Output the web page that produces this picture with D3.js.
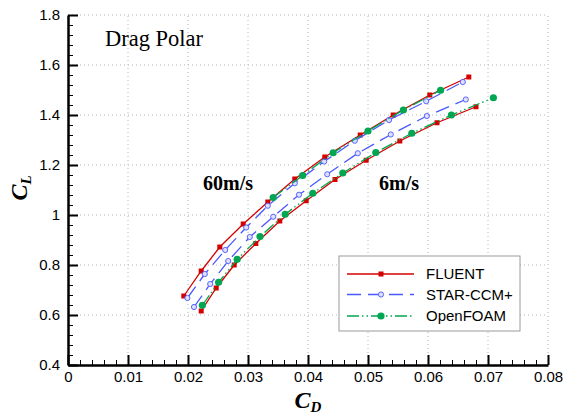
<!DOCTYPE html>
<html>
<head>
<meta charset="utf-8">
<script src="https://cdn.jsdelivr.net/npm/d3@7"></script>
<style>
  body { margin: 0; background: #fff; }
  svg { display: block; }
</style>
</head>
<body>
<svg id="chart" width="565" height="416"></svg>
<script>
// axis ticks
var xTicks = [0, 0.01, 0.02, 0.03, 0.04, 0.05, 0.06, 0.07, 0.08];
var yTicks = [0.4, 0.6, 0.8, 1.0, 1.2, 1.4, 1.6, 1.8];

// FLUENT
var fluent60CD = [0.0193, 0.0222, 0.0253, 0.0292, 0.0333, 0.0378, 0.0428, 0.0487, 0.0542, 0.0603, 0.0668];
var fluent60CL = [0.676, 0.776, 0.872, 0.964, 1.052, 1.144, 1.232, 1.320, 1.400, 1.480, 1.552];
var fluent6CD = [0.0222, 0.0247, 0.0277, 0.0313, 0.0353, 0.0397, 0.0445, 0.0497, 0.0553, 0.0615, 0.0680];
var fluent6CL = [0.616, 0.708, 0.800, 0.886, 0.976, 1.057, 1.142, 1.219, 1.296, 1.369, 1.433];

// STAR-CCM+
var star60CD = [0.0199, 0.0228, 0.0262, 0.0297, 0.0333, 0.0378, 0.0427, 0.0478, 0.0535, 0.0597, 0.0658];
var star60CL = [0.668, 0.764, 0.860, 0.950, 1.037, 1.127, 1.214, 1.297, 1.380, 1.455, 1.532];
var star6CD = [0.0210, 0.0237, 0.0267, 0.0303, 0.0342, 0.0385, 0.0432, 0.0483, 0.0538, 0.0598, 0.0663];
var star6CL = [0.632, 0.724, 0.816, 0.912, 0.993, 1.081, 1.163, 1.247, 1.322, 1.396, 1.462];

// OpenFOAM
var foam60CD = [0.0342, 0.0391, 0.0442, 0.0500, 0.0559, 0.0621];
var foam60CL = [1.070, 1.158, 1.249, 1.336, 1.420, 1.499];
var foam6CD = [0.0224, 0.0251, 0.0282, 0.0320, 0.0362, 0.0408, 0.0458, 0.0513, 0.0573, 0.0639, 0.0709];
var foam6CL = [0.639, 0.731, 0.823, 0.914, 1.003, 1.087, 1.168, 1.250, 1.327, 1.400, 1.469];

var series = [
    {name: 'FLUENT', color: '#d40000', dash: null, marker: 'square', curves: [[fluent60CD, fluent60CL], [fluent6CD, fluent6CL]]},
    {name: 'STAR-CCM+', color: '#4a58ff', dash: '14,7', marker: 'open', curves: [[star60CD, star60CL], [star6CD, star6CL]]},
    {name: 'OpenFOAM', color: '#00a651', dash: '12,3,1.5,3,1.5,3', marker: 'dot', curves: [[foam60CD, foam60CL], [foam6CD, foam6CL]]}
];

var svg = d3.select('#chart');

var x = d3.scaleLinear().domain([0, 0.08]).range([68, 548]),
    y = d3.scaleLinear().domain([0.4, 1.8]).range([365, 15]);

// dotted grid
var grid = svg.append('g').attr('stroke', '#b4b4b4').attr('stroke-dasharray', '1,3');
grid.selectAll('.gx').data(xTicks.slice(1)).enter().append('line')
    .attr('x1', function(d) { return x(d); }).attr('x2', function(d) { return x(d); })
    .attr('y1', y(0.4)).attr('y2', y(1.8));
grid.selectAll('.gy').data(yTicks.slice(1)).enter().append('line')
    .attr('y1', function(d) { return y(d); }).attr('y2', function(d) { return y(d); })
    .attr('x1', x(0)).attr('x2', x(0.08));

// minor ticks
var xMinor = d3.range(0, 0.0801, 0.002), yMinor = d3.range(0.4, 1.801, 0.04);
svg.append('g').attr('transform', 'translate(0,' + y(0.4) + ')')
    .call(d3.axisBottom(x).tickValues(xMinor).tickSize(-5).tickFormat(''))
    .call(function(g) { g.select('.domain').remove(); g.selectAll('line').attr('stroke-width', 1); });
svg.append('g').attr('transform', 'translate(' + x(0) + ',0)')
    .call(d3.axisLeft(y).tickValues(yMinor).tickSize(-5).tickFormat(''))
    .call(function(g) { g.select('.domain').remove(); g.selectAll('line').attr('stroke-width', 1); });

// major axes
var xAxis = svg.append('g').attr('transform', 'translate(0,' + y(0.4) + ')')
    .call(d3.axisBottom(x).tickValues(xTicks).tickSizeInner(-10).tickSizeOuter(0).tickPadding(6)
        .tickFormat(function(d) { return d === 0 ? '0' : d3.format('.2f')(d); }));
var yAxis = svg.append('g').attr('transform', 'translate(' + x(0) + ',0)')
    .call(d3.axisLeft(y).tickValues(yTicks).tickSizeInner(-10).tickSizeOuter(0).tickPadding(8)
        .tickFormat(function(d) { return d3.format('~g')(+d.toFixed(1)); }));
[xAxis, yAxis].forEach(function(a) {
    a.select('.domain').attr('stroke-width', 2.5);
    a.selectAll('.tick line').attr('stroke-width', 2);
    a.selectAll('text').attr('font-family', 'Liberation Sans, Arial, sans-serif').attr('font-size', 15).attr('fill', '#000');
});

// curves
var line = d3.line().x(function(d) { return x(d[0]); }).y(function(d) { return y(d[1]); });

function drawMarker(g, s, px, py) {
    if (s.marker === 'square') {
        g.append('rect').attr('x', px - 2.5).attr('y', py - 2.5).attr('width', 5).attr('height', 5).attr('fill', s.color);
    } else if (s.marker === 'open') {
        g.append('circle').attr('cx', px).attr('cy', py).attr('r', 2.6).attr('fill', '#dde0ff').attr('stroke', s.color).attr('stroke-width', 0.9);
    } else {
        g.append('circle').attr('cx', px).attr('cy', py).attr('r', 3.6).attr('fill', s.color);
    }
}

series.forEach(function(s) {
    var g = svg.append('g');
    s.curves.forEach(function(c) {
        var pts = c[0].map(function(cd, i) { return [cd, c[1][i]]; });
        g.append('path').attr('d', line(pts)).attr('fill', 'none')
            .attr('stroke', s.color).attr('stroke-width', 1.3)
            .attr('stroke-dasharray', s.dash);
        pts.forEach(function(p) { drawMarker(g, s, x(p[0]), y(p[1])); });
    });
});

// texts
var serif = 'Liberation Serif, Times New Roman, serif';
svg.append('text').attr('x', 105).attr('y', 46).attr('font-family', serif).attr('font-size', 22.5).text('Drag Polar');
svg.append('text').attr('x', 203).attr('y', 190).attr('font-family', serif).attr('font-size', 20).attr('font-weight', 'bold').text('60m/s');
svg.append('text').attr('x', 379).attr('y', 190).attr('font-family', serif).attr('font-size', 20).attr('font-weight', 'bold').text('6m/s');

var xt = svg.append('text').attr('x', 308).attr('y', 408).attr('text-anchor', 'middle')
    .attr('font-family', serif).attr('font-size', 24).attr('font-weight', 'bold').attr('font-style', 'italic');
xt.append('tspan').text('C');
xt.append('tspan').attr('font-size', 15).attr('dy', 4).text('D');

var yt = svg.append('text').attr('transform', 'translate(27,188) rotate(-90)').attr('text-anchor', 'middle')
    .attr('font-family', serif).attr('font-size', 24).attr('font-weight', 'bold').attr('font-style', 'italic');
yt.append('tspan').text('C');
yt.append('tspan').attr('font-size', 15).attr('dy', 4).text('L');

// legend
var legend = svg.append('g');
legend.append('rect').attr('x', 339).attr('y', 256).attr('width', 181).attr('height', 75)
    .attr('fill', '#fff').attr('stroke', '#9a9a9a').attr('stroke-width', 1);
var legY = [274, 294.5, 316];
series.forEach(function(s, i) {
    legend.append('line').attr('x1', 347).attr('x2', 414).attr('y1', legY[i]).attr('y2', legY[i])
        .attr('stroke', s.color).attr('stroke-width', 1.3).attr('stroke-dasharray', s.dash);
    drawMarker(legend, s, 381, legY[i]);
    legend.append('text').attr('x', 426).attr('y', legY[i] + 5).attr('font-family', 'Liberation Sans, Arial, sans-serif')
        .attr('font-size', 15).text(s.name);
});
</script>
</body>
</html>
